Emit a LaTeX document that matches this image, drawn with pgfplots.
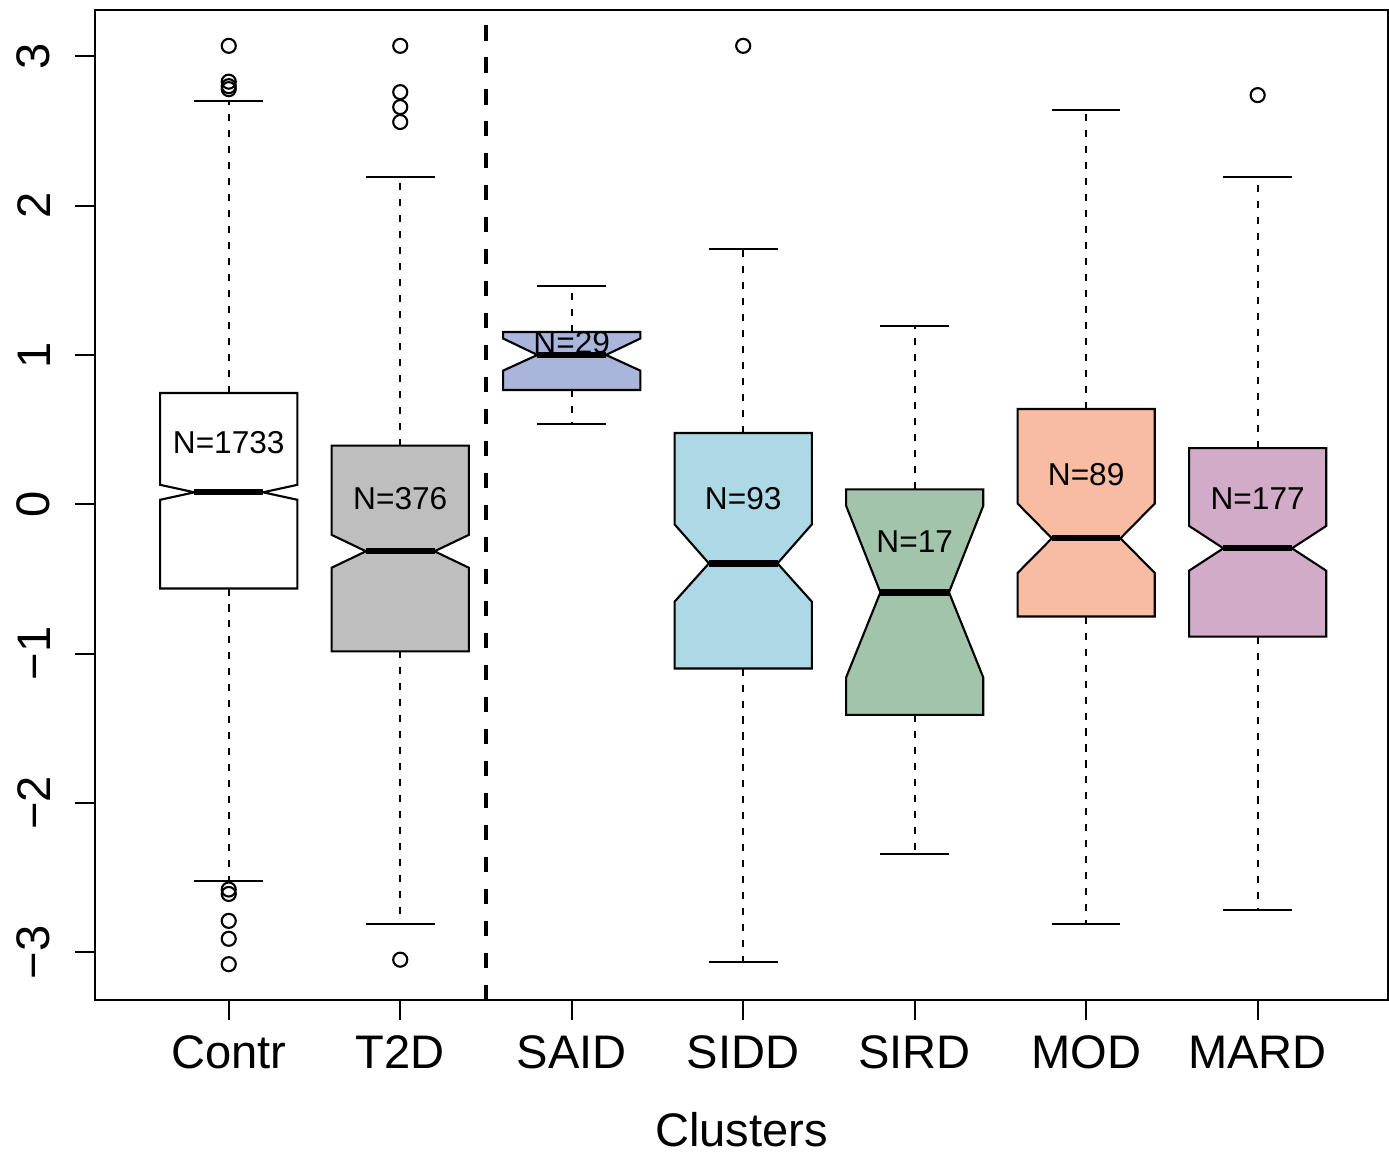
\documentclass[border=0pt]{standalone}
\usepackage{pgfplots}
\pgfplotsset{compat=1.18}
\usepackage{fontspec}
\setmainfont{Liberation Sans}

\definecolor{cT2D}{HTML}{BEBEBE}
\definecolor{cSAID}{HTML}{AAB5DC}
\definecolor{cSIDD}{HTML}{ADD8E6}
\definecolor{cSIRD}{HTML}{A1C4AA}
\definecolor{cMOD}{HTML}{F7BCA2}
\definecolor{cMARD}{HTML}{D1ABC8}

% notched box: x, lower whisker, q1, notch low, median, notch high, q3, upper whisker, colour
\newcommand{\nbox}[9]{%
  \pgfmathsetmacro\bxl{#1-0.4}\pgfmathsetmacro\bxr{#1+0.4}%
  \pgfmathsetmacro\nxl{#1-0.2}\pgfmathsetmacro\nxr{#1+0.2}%
  \addplot[whisk] coordinates {(#1,#7) (#1,#8)};
  \addplot[whisk] coordinates {(#1,#3) (#1,#2)};
  \addplot[staple] coordinates {(\nxl,#8) (\nxr,#8)};
  \addplot[staple] coordinates {(\nxl,#2) (\nxr,#2)};
  \addplot[fill=#9, draw=black, line width=0.6pt] coordinates {
    (\bxl,#3) (\bxr,#3) (\bxr,#4) (\nxr,#5) (\bxr,#6) (\bxr,#7)
    (\bxl,#7) (\bxl,#6) (\nxl,#5) (\bxl,#4)} -- cycle;
  \addplot[line width=1.8pt] coordinates {(\nxl,#5) (\nxr,#5)};
}

\begin{document}
\begin{tikzpicture}
\begin{axis}[
  name=ax,
  scale only axis,
  width=12.93cm, height=9.9cm,
  xmin=0.22, xmax=7.76,
  ymin=-3.32, ymax=3.31,
  xtick={1,...,7},
  xticklabels={Contr,T2D,SAID,SIDD,SIRD,MOD,MARD},
  ytick={-3,...,3},
  yticklabels={−3,−2,−1,0,1,2,3},
  xtick pos=bottom, ytick pos=left,
  tick align=outside,
  major tick length=0.2cm,
  axis line style={line width=0.6pt},
  every tick/.style={black, line width=0.6pt},
  tick label style={font=\fontsize{13.4}{16}\selectfont, inner sep=0pt},
  yticklabel style={rotate=90, anchor=south},
  xticklabel shift=0.15cm,
  yticklabel shift=0.24cm,
  xlabel={Clusters},
  xlabel style={font=\fontsize{13.4}{16}\selectfont, inner sep=0pt,
    at={(axis description cs:0.5,0)}, anchor=north, yshift=-1.12cm},
  whisk/.style={black, line width=0.55pt, dash pattern=on 2pt off 2.55pt},
  staple/.style={black, line width=0.6pt},
  outl/.style={only marks, mark=o, mark size=2pt, mark options={line width=0.6pt, black}},
  clip=false,
]
\nbox{1}{-2.52}{-0.564}{0.03}{0.08}{0.13}{0.745}{2.70}{white}
\nbox{2}{-2.81}{-0.985}{-0.425}{-0.315}{-0.205}{0.393}{2.19}{cT2D}
\nbox{3}{0.537}{0.765}{0.895}{1.0}{1.11}{1.154}{1.46}{cSAID}
\nbox{4}{-3.063}{-1.10}{-0.652}{-0.396}{-0.135}{0.477}{1.71}{cSIDD}
\nbox{5}{-2.34}{-1.41}{-1.16}{-0.59}{-0.01}{0.10}{1.195}{cSIRD}
\nbox{6}{-2.81}{-0.752}{-0.46}{-0.228}{0.005}{0.638}{2.64}{cMOD}
\nbox{7}{-2.715}{-0.886}{-0.445}{-0.295}{-0.145}{0.376}{2.19}{cMARD}

\addplot[outl] coordinates {
  (1,3.07) (1,2.83) (1,2.80) (1,2.78) (1,-2.58) (1,-2.61) (1,-2.79) (1,-2.91) (1,-3.08)
  (2,3.07) (2,2.76) (2,2.66) (2,2.56) (2,-3.05)
  (4,3.07)
  (7,2.74)};

\addplot[black, line width=1.1pt, dash pattern=on 4.3pt off 4.8pt] coordinates {(2.5,-3.32) (2.5,3.31)};

\node[font=\fontsize{9}{11}\selectfont] at (axis cs:1,0.416) {N=1733};
\node[font=\fontsize{9}{11}\selectfont] at (axis cs:2,0.04) {N=376};
\node[font=\fontsize{9}{11}\selectfont] at (axis cs:3,1.08) {N=29};
\node[font=\fontsize{9}{11}\selectfont] at (axis cs:4,0.04) {N=93};
\node[font=\fontsize{9}{11}\selectfont] at (axis cs:5,-0.25) {N=17};
\node[font=\fontsize{9}{11}\selectfont] at (axis cs:6,0.2) {N=89};
\node[font=\fontsize{9}{11}\selectfont] at (axis cs:7,0.04) {N=177};
\end{axis}
\pgfresetboundingbox
\path[use as bounding box] ([xshift=-0.95cm,yshift=-1.52cm]ax.south west) rectangle ([xshift=0.01cm,yshift=0.1cm]ax.north east);
\end{tikzpicture}
\end{document}
